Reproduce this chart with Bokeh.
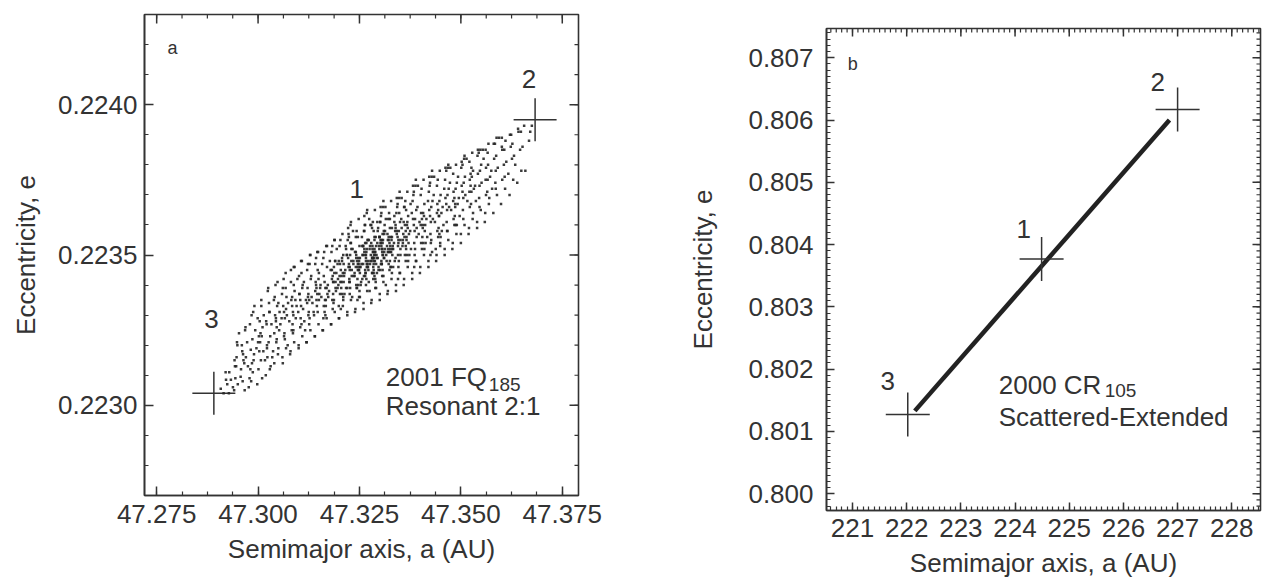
import numpy as np
from jinja2 import Template
from bokeh.plotting import figure
from bokeh.models import FixedTicker, Range1d
from bokeh.core.properties import value
from bokeh.embed import file_html
from bokeh.resources import INLINE

FONT = "Liberation Sans"
INK = "#333333"
DOT = "#262626"

# ---------------- Panel a : 2001 FQ185 (Resonant 2:1) ----------------
a_cloud = [
    47.2908, 47.2921, 47.2915,
    47.2938, 47.2929, 47.2942, 47.2933, 47.2946,
    47.2950, 47.2961, 47.2953, 47.2958, 47.2964, 47.2948, 47.2957,
    47.2979, 47.2970, 47.2984, 47.2973, 47.2977, 47.2968, 47.2982, 47.2975,
    47.2989, 47.2998, 47.3002, 47.2991, 47.2996, 47.3004, 47.2987, 47.2993, 47.3000,
    47.3011, 47.3019, 47.3008, 47.3022, 47.3014, 47.3017, 47.3024, 47.3009, 47.3013, 47.3020,
    47.3031, 47.3040, 47.3028, 47.3037, 47.3043, 47.3033, 47.3026, 47.3039, 47.3035, 47.3044,
    47.3052, 47.3061, 47.3047, 47.3058, 47.3050, 47.3063, 47.3055, 47.3046, 47.3059, 47.3053, 47.3064,
    47.3071, 47.3079, 47.3068, 47.3083, 47.3074, 47.3066, 47.3081, 47.3077, 47.3069, 47.3084, 47.3073,
    47.3092, 47.3100, 47.3087, 47.3097, 47.3104, 47.3090, 47.3095, 47.3086, 47.3102, 47.3093, 47.3099, 47.3088,
    47.3111, 47.3119, 47.3107, 47.3123, 47.3114, 47.3106, 47.3121, 47.3116, 47.3109, 47.3124, 47.3113, 47.3118,
    47.3132, 47.3140, 47.3127, 47.3137, 47.3143, 47.3129, 47.3134, 47.3126, 47.3141, 47.3131, 47.3138, 47.3144,
    47.3151, 47.3159, 47.3147, 47.3162, 47.3154, 47.3146, 47.3161, 47.3156, 47.3149, 47.3164, 47.3153, 47.3158, 47.3150,
    47.3172, 47.3180, 47.3167, 47.3177, 47.3184, 47.3170, 47.3175, 47.3166, 47.3182, 47.3173, 47.3179, 47.3169, 47.3185,
    47.3191, 47.3199, 47.3187, 47.3202, 47.3194, 47.3186, 47.3201, 47.3196, 47.3189, 47.3204, 47.3193, 47.3198, 47.3190, 47.3197,
    47.3212, 47.3220, 47.3207, 47.3217, 47.3224, 47.3210, 47.3215, 47.3206, 47.3222, 47.3213, 47.3219, 47.3209, 47.3225, 47.3216, 47.3211,
    47.3231, 47.3239, 47.3227, 47.3242, 47.3234, 47.3226, 47.3241, 47.3236, 47.3229, 47.3244, 47.3233, 47.3238, 47.3230, 47.3245, 47.3235, 47.3228,
    47.3252, 47.3260, 47.3247, 47.3257, 47.3264, 47.3250, 47.3255, 47.3246, 47.3262, 47.3253, 47.3259, 47.3249, 47.3265, 47.3256, 47.3251, 47.3258, 47.3248, 47.3261,
    47.3271, 47.3279, 47.3267, 47.3282, 47.3274, 47.3266, 47.3281, 47.3276, 47.3269, 47.3284, 47.3273, 47.3278, 47.3270, 47.3285, 47.3275, 47.3268, 47.3280, 47.3272, 47.3277, 47.3283,
    47.3292, 47.3300, 47.3287, 47.3297, 47.3304, 47.3290, 47.3295, 47.3286, 47.3302, 47.3293, 47.3299, 47.3289, 47.3305, 47.3296, 47.3291, 47.3298, 47.3288, 47.3301, 47.3294, 47.3303,
    47.3311, 47.3319, 47.3307, 47.3322, 47.3314, 47.3306, 47.3321, 47.3316, 47.3309, 47.3324, 47.3313, 47.3318, 47.3310, 47.3325, 47.3315, 47.3308, 47.3320, 47.3312,
    47.3332, 47.3340, 47.3327, 47.3337, 47.3344, 47.3330, 47.3335, 47.3326, 47.3342, 47.3333, 47.3339, 47.3329, 47.3345, 47.3336, 47.3331, 47.3338,
    47.3351, 47.3359, 47.3347, 47.3362, 47.3354, 47.3346, 47.3361, 47.3356, 47.3349, 47.3364, 47.3353, 47.3358, 47.3350, 47.3365, 47.3357,
    47.3372, 47.3380, 47.3367, 47.3377, 47.3384, 47.3370, 47.3375, 47.3366, 47.3382, 47.3373, 47.3379, 47.3369, 47.3385, 47.3376,
    47.3391, 47.3399, 47.3387, 47.3402, 47.3394, 47.3386, 47.3401, 47.3396, 47.3389, 47.3404, 47.3393, 47.3398, 47.3390,
    47.3412, 47.3420, 47.3407, 47.3417, 47.3424, 47.3410, 47.3415, 47.3406, 47.3422, 47.3413, 47.3419, 47.3409, 47.3425,
    47.3431, 47.3439, 47.3427, 47.3442, 47.3434, 47.3426, 47.3441, 47.3436, 47.3429, 47.3444, 47.3433, 47.3438,
    47.3452, 47.3460, 47.3447, 47.3457, 47.3464, 47.3450, 47.3455, 47.3446, 47.3462, 47.3453, 47.3459, 47.3449,
    47.3471, 47.3479, 47.3467, 47.3482, 47.3474, 47.3466, 47.3481, 47.3476, 47.3469, 47.3484, 47.3473,
    47.3492, 47.3500, 47.3487, 47.3497, 47.3504, 47.3490, 47.3495, 47.3486, 47.3502, 47.3493,
    47.3511, 47.3519, 47.3507, 47.3522, 47.3514, 47.3506, 47.3521, 47.3516, 47.3509, 47.3524,
    47.3532, 47.3540, 47.3527, 47.3537, 47.3544, 47.3530, 47.3535, 47.3526, 47.3542,
    47.3551, 47.3559, 47.3547, 47.3562, 47.3554, 47.3546, 47.3561, 47.3556,
    47.3572, 47.3580, 47.3567, 47.3577, 47.3584, 47.3570, 47.3575, 47.3566,
    47.3591, 47.3599, 47.3587, 47.3602, 47.3594, 47.3586, 47.3601,
    47.3612, 47.3620, 47.3607, 47.3617, 47.3624, 47.3610,
    47.3631, 47.3639, 47.3627, 47.3642, 47.3634,
    47.3652, 47.3659, 47.3648, 47.3656,
    47.3668, 47.3675, 47.3671,
    # second sweep
    47.2924, 47.2928, 47.2920,
    47.2944, 47.2947, 47.2941, 47.2949, 47.2943,
    47.2966, 47.2962, 47.2969, 47.2960, 47.2967, 47.2963,
    47.2986, 47.2981, 47.2988, 47.2983, 47.2990, 47.2980, 47.2985,
    47.3006, 47.3001, 47.3008, 47.3003, 47.3010, 47.2999, 47.3005, 47.3007,
    47.3027, 47.3022, 47.3029, 47.3021, 47.3030, 47.3025, 47.3023, 47.3028,
    47.3046, 47.3041, 47.3049, 47.3042, 47.3048, 47.3045, 47.3040, 47.3050, 47.3044,
    47.3066, 47.3061, 47.3069, 47.3062, 47.3068, 47.3065, 47.3060, 47.3070, 47.3064,
    47.3086, 47.3081, 47.3089, 47.3082, 47.3088, 47.3085, 47.3080, 47.3090, 47.3084, 47.3087,
    47.3106, 47.3101, 47.3109, 47.3102, 47.3108, 47.3105, 47.3100, 47.3110, 47.3104, 47.3107,
    47.3126, 47.3121, 47.3129, 47.3122, 47.3128, 47.3125, 47.3120, 47.3130, 47.3124, 47.3127, 47.3123,
    47.3146, 47.3141, 47.3149, 47.3142, 47.3148, 47.3145, 47.3140, 47.3150, 47.3144, 47.3147, 47.3143,
    47.3166, 47.3161, 47.3169, 47.3162, 47.3168, 47.3165, 47.3160, 47.3170, 47.3164, 47.3167, 47.3163, 47.3171,
    47.3186, 47.3181, 47.3189, 47.3182, 47.3188, 47.3185, 47.3180, 47.3190, 47.3184, 47.3187, 47.3183, 47.3191,
    47.3206, 47.3201, 47.3209, 47.3202, 47.3208, 47.3205, 47.3200, 47.3210, 47.3204, 47.3207, 47.3203, 47.3211, 47.3199,
    47.3226, 47.3221, 47.3229, 47.3222, 47.3228, 47.3225, 47.3220, 47.3230, 47.3224, 47.3227, 47.3223, 47.3231, 47.3219, 47.3226,
    47.3246, 47.3241, 47.3249, 47.3242, 47.3248, 47.3245, 47.3240, 47.3250, 47.3244, 47.3247, 47.3243, 47.3251, 47.3239, 47.3246, 47.3248, 47.3242,
    47.3266, 47.3261, 47.3269, 47.3262, 47.3268, 47.3265, 47.3260, 47.3270, 47.3264, 47.3267, 47.3263, 47.3271, 47.3259, 47.3266, 47.3268, 47.3262, 47.3264, 47.3267,
    47.3286, 47.3281, 47.3289, 47.3282, 47.3288, 47.3285, 47.3280, 47.3290, 47.3284, 47.3287, 47.3283, 47.3291, 47.3279, 47.3286, 47.3288, 47.3282, 47.3284, 47.3287, 47.3283, 47.3285,
    47.3306, 47.3301, 47.3309, 47.3302, 47.3308, 47.3305, 47.3300, 47.3310, 47.3304, 47.3307, 47.3303, 47.3311, 47.3299, 47.3306, 47.3308, 47.3302, 47.3304, 47.3307,
    47.3326, 47.3321, 47.3329, 47.3322, 47.3328, 47.3325, 47.3320, 47.3330, 47.3324, 47.3327, 47.3323, 47.3331, 47.3319, 47.3326, 47.3328, 47.3322,
    47.3346, 47.3341, 47.3349, 47.3342, 47.3348, 47.3345, 47.3340, 47.3350, 47.3344, 47.3347, 47.3343, 47.3351, 47.3339, 47.3346,
    47.3366, 47.3361, 47.3369, 47.3362, 47.3368, 47.3365, 47.3360, 47.3370, 47.3364, 47.3367, 47.3363, 47.3371, 47.3359,
    47.3386, 47.3381, 47.3389, 47.3382, 47.3388, 47.3385, 47.3380, 47.3390, 47.3384, 47.3387, 47.3383, 47.3391,
    47.3406, 47.3401, 47.3409, 47.3402, 47.3408, 47.3405, 47.3400, 47.3410, 47.3404, 47.3407, 47.3403, 47.3411,
    47.3426, 47.3421, 47.3429, 47.3422, 47.3428, 47.3425, 47.3420, 47.3430, 47.3424, 47.3427, 47.3423,
    47.3446, 47.3441, 47.3449, 47.3442, 47.3448, 47.3445, 47.3440, 47.3450, 47.3444, 47.3447, 47.3443,
    47.3466, 47.3461, 47.3469, 47.3462, 47.3468, 47.3465, 47.3460, 47.3470, 47.3464, 47.3467,
    47.3486, 47.3481, 47.3489, 47.3482, 47.3488, 47.3485, 47.3480, 47.3490, 47.3484, 47.3487,
    47.3506, 47.3501, 47.3509, 47.3502, 47.3508, 47.3505, 47.3500, 47.3510, 47.3504,
    47.3526, 47.3521, 47.3529, 47.3522, 47.3528, 47.3525, 47.3520, 47.3530, 47.3524,
    47.3546, 47.3541, 47.3549, 47.3542, 47.3548, 47.3545, 47.3540, 47.3550,
    47.3566, 47.3561, 47.3569, 47.3562, 47.3568, 47.3565, 47.3560,
    47.3586, 47.3581, 47.3589, 47.3582, 47.3588, 47.3585,
    47.3606, 47.3601, 47.3609, 47.3602, 47.3608,
    47.3626, 47.3621, 47.3629, 47.3623,
    47.3646, 47.3641, 47.3649,
    # dense core
    47.3183, 47.3188, 47.3192, 47.3196, 47.3199,
    47.3203, 47.3207, 47.3210, 47.3213, 47.3217,
    47.3220, 47.3223, 47.3226, 47.3229, 47.3232,
    47.3235, 47.3238, 47.3241, 47.3243, 47.3246,
    47.3249, 47.3251, 47.3254, 47.3257, 47.3259,
    47.3262, 47.3264, 47.3266, 47.3268, 47.3271,
    47.3273, 47.3275, 47.3277, 47.3279, 47.3281,
    47.3283, 47.3285, 47.3287, 47.3289, 47.3291,
    47.3293, 47.3295, 47.3297, 47.3299, 47.3301,
    47.3303, 47.3305, 47.3307, 47.3309, 47.3311,
    47.3313, 47.3315, 47.3317, 47.3320, 47.3322,
    47.3325, 47.3327, 47.3330, 47.3333, 47.3336,
    47.3339, 47.3342, 47.3345, 47.3348, 47.3351,
    47.3354, 47.3357, 47.3360, 47.3364, 47.3368,
    47.3276, 47.3282, 47.3288, 47.3294, 47.3270,
    47.3258, 47.3300, 47.3306, 47.3264, 47.3252,
]
e_cloud = [
    0.223055, 0.223085, 0.22304,
    0.22306, 0.22311, 0.22315, 0.223085, 0.22313,
    0.22307, 0.22318, 0.22324, 0.22312, 0.22315, 0.22321, 0.223095,
    0.22309, 0.22316, 0.2233, 0.22321, 0.22306, 0.22325, 0.223185, 0.22313,
    0.22315, 0.22307, 0.22323, 0.22333, 0.22319, 0.22328, 0.22311, 0.22325, 0.22321,
    0.22326, 0.2231, 0.22335, 0.2232, 0.2233, 0.22315, 0.22338, 0.22323, 0.22318, 0.22328,
    0.22313, 0.22324, 0.22331, 0.22318, 0.2234, 0.22327, 0.22321, 0.22335, 0.22316, 0.22329,
    0.22325, 0.22314, 0.22333, 0.22329, 0.22319, 0.22342, 0.22327, 0.22322, 0.22337, 0.22331, 0.22323,
    0.2233, 0.22317, 0.22339, 0.22325, 0.22334, 0.22322, 0.22345, 0.22328, 0.22332, 0.22336, 0.2232,
    0.22335, 0.22319, 0.2233, 0.22342, 0.22326, 0.22346, 0.22333, 0.22324, 0.22337, 0.22329, 0.22331, 0.2234,
    0.22332, 0.22321, 0.22344, 0.22336, 0.22328, 0.22348, 0.22334, 0.22325, 0.22339, 0.2233, 0.22341, 0.22335,
    0.22336, 0.22323, 0.22347, 0.22331, 0.2234, 0.2235, 0.22334, 0.22327, 0.22338, 0.22343, 0.2233, 0.22335,
    0.22337, 0.22325, 0.22345, 0.22333, 0.2234, 0.22351, 0.22329, 0.22336, 0.22342, 0.22331, 0.22339, 0.22347, 0.22335,
    0.2234, 0.22327, 0.22335, 0.22348, 0.22332, 0.22353, 0.22338, 0.2233, 0.22342, 0.22336, 0.22345, 0.22339, 0.22341,
    0.22341, 0.22329, 0.22346, 0.22337, 0.22352, 0.22334, 0.22343, 0.22339, 0.22355, 0.22332, 0.22344, 0.2234, 0.22348, 0.22342,
    0.22343, 0.2233, 0.22348, 0.22339, 0.22356, 0.22335, 0.22345, 0.22341, 0.22359, 0.22337, 0.2235, 0.22344, 0.22342, 0.22353, 0.22347,
    0.22345, 0.22331, 0.2235, 0.2234, 0.22358, 0.22337, 0.22346, 0.22343, 0.22361, 0.22339, 0.22352, 0.22344, 0.22348, 0.22335, 0.22347, 0.22354,
    0.22346, 0.22332, 0.22349, 0.22342, 0.2236, 0.22338, 0.22347, 0.22345, 0.22363, 0.2234, 0.22353, 0.22348, 0.22344, 0.22356, 0.22336, 0.2235, 0.22347, 0.22343,
    0.22348, 0.22334, 0.22351, 0.22344, 0.22362, 0.2234, 0.22349, 0.22347, 0.22365, 0.22342, 0.22355, 0.2235, 0.22346, 0.22358, 0.22338, 0.22352, 0.22348, 0.22345, 0.2236, 0.22349,
    0.2235, 0.22335, 0.22352, 0.22346, 0.22364, 0.22341, 0.22349, 0.22348, 0.22366, 0.22344, 0.22356, 0.22351, 0.22347, 0.22359, 0.22339, 0.22353, 0.2235, 0.22345, 0.22361, 0.22354,
    0.22351, 0.22337, 0.22354, 0.22347, 0.22366, 0.22343, 0.22352, 0.2235, 0.22368, 0.22345, 0.22358, 0.22353, 0.22349, 0.22362, 0.2234, 0.22355, 0.22351, 0.2236,
    0.22353, 0.22338, 0.22356, 0.22348, 0.22367, 0.22344, 0.22354, 0.22351, 0.22369, 0.22346, 0.2236, 0.22355, 0.22342, 0.22363, 0.22352, 0.22358,
    0.22355, 0.2234, 0.22358, 0.2235, 0.22369, 0.22346, 0.22356, 0.22353, 0.22371, 0.22348, 0.22362, 0.22357, 0.22344, 0.22365, 0.22354,
    0.22357, 0.22342, 0.2236, 0.22352, 0.22371, 0.22348, 0.22358, 0.22355, 0.22373, 0.2235, 0.22364, 0.22359, 0.22346, 0.22367,
    0.22359, 0.22344, 0.22362, 0.22354, 0.22373, 0.2235, 0.2236, 0.22357, 0.22375, 0.22352, 0.22366, 0.22361, 0.22348,
    0.2236, 0.22346, 0.22364, 0.22356, 0.22374, 0.22352, 0.22362, 0.22359, 0.22376, 0.22354, 0.22368, 0.22363, 0.2235,
    0.22362, 0.22348, 0.22366, 0.22358, 0.22376, 0.22354, 0.22364, 0.22361, 0.22378, 0.22356, 0.2237, 0.22352,
    0.22364, 0.2235, 0.22368, 0.2236, 0.22378, 0.22356, 0.22366, 0.22363, 0.22379, 0.22358, 0.22372, 0.22354,
    0.22366, 0.22352, 0.2237, 0.22362, 0.22379, 0.22358, 0.22368, 0.22365, 0.2238, 0.2236, 0.22374,
    0.22367, 0.22354, 0.22372, 0.22363, 0.2238, 0.2236, 0.22369, 0.22366, 0.22381, 0.22376,
    0.2237, 0.22357, 0.22374, 0.22366, 0.22382, 0.22362, 0.22371, 0.22368, 0.22383, 0.22377,
    0.22372, 0.22359, 0.22376, 0.22368, 0.22384, 0.22364, 0.22373, 0.22379, 0.22385,
    0.22374, 0.22361, 0.22378, 0.2237, 0.22385, 0.22366, 0.22375, 0.22382,
    0.22376, 0.22364, 0.2238, 0.22372, 0.22387, 0.22369, 0.22378, 0.22384,
    0.22379, 0.22367, 0.22383, 0.22375, 0.22389, 0.22372, 0.22386,
    0.22381, 0.2237, 0.22385, 0.22377, 0.2239, 0.22388,
    0.22383, 0.22374, 0.22387, 0.22391, 0.2238,
    0.22386, 0.22378, 0.22391, 0.22393,
    0.22388, 0.22393, 0.22391,
    # second sweep
    0.22307, 0.22304, 0.22311,
    0.22309, 0.22316, 0.22305, 0.2232, 0.22313,
    0.22314, 0.22308, 0.22326, 0.2232, 0.22305, 0.22317,
    0.22322, 0.22312, 0.22331, 0.22308, 0.22317, 0.22327, 0.22314,
    0.22324, 0.22312, 0.22333, 0.22318, 0.22309, 0.22329, 0.22321, 0.22315,
    0.22334, 0.22319, 0.22312, 0.22327, 0.22323, 0.22339, 0.22316, 0.22331,
    0.22326, 0.22336, 0.22317, 0.2233, 0.22341, 0.22321, 0.22314, 0.22334, 0.22328,
    0.22329, 0.22339, 0.22319, 0.22333, 0.22344, 0.22324, 0.22316, 0.22336, 0.22331,
    0.22331, 0.22341, 0.22321, 0.22335, 0.22346, 0.22327, 0.22318, 0.22338, 0.22333, 0.22325,
    0.22333, 0.22343, 0.22323, 0.22337, 0.22348, 0.22329, 0.2232, 0.2234, 0.22335, 0.22327,
    0.22335, 0.22345, 0.22325, 0.22339, 0.2235, 0.22331, 0.22321, 0.22342, 0.22337, 0.22329, 0.22347,
    0.22337, 0.22347, 0.22327, 0.22341, 0.22351, 0.22333, 0.22323, 0.22344, 0.22339, 0.22331, 0.22349,
    0.22339, 0.22349, 0.22329, 0.22343, 0.22353, 0.22335, 0.22325, 0.22346, 0.22341, 0.22333, 0.22351, 0.22337,
    0.22341, 0.22351, 0.22331, 0.22345, 0.22355, 0.22337, 0.22327, 0.22348, 0.22343, 0.22335, 0.22353, 0.22339,
    0.22343, 0.22353, 0.22333, 0.22347, 0.22357, 0.22339, 0.22329, 0.2235, 0.22345, 0.22337, 0.22355, 0.22341, 0.22348,
    0.22345, 0.22355, 0.22335, 0.22349, 0.2236, 0.22341, 0.22331, 0.22352, 0.22347, 0.22339, 0.22357, 0.22343, 0.2235, 0.22346,
    0.22346, 0.22356, 0.22336, 0.2235, 0.22362, 0.22342, 0.22332, 0.22353, 0.22348, 0.2234, 0.22358, 0.22344, 0.22351, 0.22347, 0.22345, 0.22349,
    0.22348, 0.22358, 0.22338, 0.22352, 0.22364, 0.22344, 0.22334, 0.22355, 0.2235, 0.22342, 0.2236, 0.22346, 0.22353, 0.22349, 0.22347, 0.22351, 0.22345, 0.22354,
    0.22349, 0.22359, 0.22339, 0.22353, 0.22365, 0.22345, 0.22335, 0.22356, 0.22351, 0.22343, 0.22361, 0.22347, 0.22354, 0.2235, 0.22348, 0.22352, 0.22346, 0.22355, 0.22349, 0.22344,
    0.22351, 0.22361, 0.22341, 0.22355, 0.22366, 0.22347, 0.22337, 0.22358, 0.22353, 0.22345, 0.22363, 0.22349, 0.22356, 0.22352, 0.2235, 0.22354, 0.22348, 0.22357,
    0.22352, 0.22362, 0.22342, 0.22356, 0.22368, 0.22348, 0.22338, 0.22359, 0.22354, 0.22346, 0.22364, 0.2235, 0.22357, 0.22353, 0.22351, 0.22355,
    0.22354, 0.22364, 0.22344, 0.22358, 0.22369, 0.2235, 0.2234, 0.22361, 0.22356, 0.22348, 0.22366, 0.22352, 0.22359, 0.22355,
    0.22356, 0.22366, 0.22346, 0.2236, 0.22371, 0.22352, 0.22342, 0.22363, 0.22358, 0.2235, 0.22368, 0.22354, 0.22361,
    0.22358, 0.22368, 0.22348, 0.22362, 0.22373, 0.22354, 0.22344, 0.22365, 0.2236, 0.22352, 0.2237, 0.22356,
    0.2236, 0.2237, 0.2235, 0.22364, 0.22375, 0.22356, 0.22346, 0.22367, 0.22362, 0.22354, 0.22372, 0.22358,
    0.22361, 0.22371, 0.22351, 0.22365, 0.22376, 0.22357, 0.22348, 0.22368, 0.22363, 0.22355, 0.22373,
    0.22363, 0.22373, 0.22353, 0.22367, 0.22378, 0.22359, 0.2235, 0.2237, 0.22365, 0.22357, 0.22375,
    0.22365, 0.22375, 0.22355, 0.22369, 0.22379, 0.22361, 0.22352, 0.22372, 0.22367, 0.22358,
    0.22367, 0.22377, 0.22357, 0.22371, 0.2238, 0.22363, 0.22354, 0.22374, 0.22369, 0.2236,
    0.22369, 0.22379, 0.2236, 0.22373, 0.22382, 0.22365, 0.22357, 0.22376, 0.22371,
    0.22371, 0.22381, 0.22362, 0.22375, 0.22384, 0.22367, 0.22359, 0.22378, 0.22373,
    0.22373, 0.22383, 0.22365, 0.22377, 0.22385, 0.22369, 0.22361, 0.2238,
    0.22375, 0.22385, 0.22367, 0.22379, 0.22387, 0.22371, 0.22364,
    0.22378, 0.22387, 0.2237, 0.22382, 0.22389, 0.22374,
    0.2238, 0.22389, 0.22372, 0.22385, 0.22376,
    0.22382, 0.2239, 0.22375, 0.22386,
    0.22385, 0.22392, 0.22378,
    # dense core
    0.22335, 0.22344, 0.22338, 0.22347, 0.22333,
    0.22341, 0.22349, 0.22336, 0.22344, 0.22352,
    0.22339, 0.22346, 0.22341, 0.22354, 0.22336,
    0.22348, 0.22343, 0.22351, 0.22339, 0.22356,
    0.22345, 0.22349, 0.22341, 0.22353, 0.22347,
    0.22358, 0.22343, 0.2235, 0.22346, 0.22355,
    0.22341, 0.22352, 0.22348, 0.2236, 0.22344,
    0.22351, 0.22347, 0.22356, 0.22342, 0.22353,
    0.22349, 0.22358, 0.22345, 0.22352, 0.22361,
    0.22347, 0.22355, 0.2235, 0.22343, 0.22357,
    0.22352, 0.22362, 0.22348, 0.22355, 0.22351,
    0.22359, 0.22346, 0.22356, 0.22352, 0.22361,
    0.22349, 0.22357, 0.22353, 0.22364, 0.2235,
    0.22359, 0.22355, 0.22366, 0.22353, 0.22361,
    0.22353, 0.22349, 0.22351, 0.22354, 0.22347,
    0.2235, 0.22356, 0.22352, 0.22354, 0.22346,
]
a_marks_a = [47.2891, 47.3683]          # orbits 3 and 2
e_marks_a = [0.22304, 0.22395]

a_ticks_a = [47.275, 47.300, 47.325, 47.350, 47.375]
a_labels_a = ["47.275", "47.300", "47.325", "47.350", "47.375"]
e_ticks_a = [0.2230, 0.2235, 0.2240]
e_labels_a = ["0.2230", "0.2235", "0.2240"]

# ---------------- Panel b : 2000 CR105 (Scattered-Extended) ----------------
a_track_b = [222.15, 226.85]
e_track_b = [0.80133, 0.80600]
a_marks_b = [224.49, 227.00, 222.02]    # orbits 1, 2, 3
e_marks_b = [0.80377, 0.80617, 0.80127]

a_ticks_b = [221, 222, 223, 224, 225, 226, 227, 228]
a_labels_b = ["221", "222", "223", "224", "225", "226", "227", "228"]
e_ticks_b = [0.800, 0.801, 0.802, 0.803, 0.804, 0.805, 0.806, 0.807]
e_labels_b = ["0.800", "0.801", "0.802", "0.803", "0.804", "0.805", "0.806", "0.807"]

X_TITLE = "Semimajor axis, a (AU)"
Y_TITLE = "Eccentricity, e"

n_pts = min(len(a_cloud), len(e_cloud))


def minor_list(start, step, count, lo, hi):
    vals = [round(start + k * step, 8) for k in range(count)]
    return [v for v in vals if lo < v < hi]


def style_axis(ax, major_in, minor_in):
    ax.axis_line_color = INK
    ax.axis_line_width = 1.6
    ax.major_tick_in = major_in
    ax.major_tick_out = 0
    ax.minor_tick_in = minor_in
    ax.minor_tick_out = 0
    ax.major_tick_line_color = INK
    ax.major_tick_line_width = 1.5
    ax.minor_tick_line_color = INK
    ax.minor_tick_line_width = 1.2
    ax.major_label_text_font = FONT
    ax.major_label_text_color = INK
    ax.major_label_text_font_size = "26px"
    ax.axis_label_text_font = FONT
    ax.axis_label_text_color = INK
    ax.axis_label_text_font_style = "normal"
    ax.axis_label_text_font_size = "26px"


def make_panel(xr, yr, xt, xl, xminor, yt, yl, yminor, size, borders, major_in, minor_in,
               x_std, x_lab_std, y_std, y_lab_std):
    p = figure(width=size[0], height=size[1],
               x_range=Range1d(*xr), y_range=Range1d(*yr),
               output_backend="svg", toolbar_location=None, title=None,
               min_border_left=borders[0], min_border_right=borders[1],
               min_border_top=borders[2], min_border_bottom=borders[3],
               background_fill_color="white", border_fill_color="white")
    p.grid.visible = False
    p.outline_line_color = INK
    p.outline_line_width = 1.6

    xa = p.xaxis[0]
    xa.ticker = FixedTicker(ticks=xt, minor_ticks=xminor)
    xa.major_label_overrides = {t: l for t, l in zip(xt, xl)}
    style_axis(xa, major_in, minor_in)
    xa.axis_label = X_TITLE
    xa.major_label_standoff = x_std
    xa.axis_label_standoff = x_lab_std

    ya = p.yaxis[0]
    ya.ticker = FixedTicker(ticks=yt, minor_ticks=yminor)
    ya.major_label_overrides = {t: l for t, l in zip(yt, yl)}
    style_axis(ya, major_in, minor_in)
    ya.axis_label = Y_TITLE
    ya.major_label_standoff = y_std
    ya.axis_label_standoff = y_lab_std

    # mirrored tick marks on the top and right frame edges (clipped to the frame)
    p.scatter(x=xt, y=[yr[1]] * len(xt), marker="dash", angle=np.pi / 2,
              size=2 * major_in, line_color=INK, line_width=1.5)
    p.scatter(x=xminor, y=[yr[1]] * len(xminor), marker="dash", angle=np.pi / 2,
              size=2 * minor_in, line_color=INK, line_width=1.2)
    p.scatter(x=[xr[1]] * len(yt), y=yt, marker="dash",
              size=2 * major_in, line_color=INK, line_width=1.5)
    p.scatter(x=[xr[1]] * len(yminor), y=yminor, marker="dash",
              size=2 * minor_in, line_color=INK, line_width=1.2)
    return p


def put_text(p, x, y, txt, size, align="center"):
    p.text(x=[x], y=[y], text=[txt], text_font=value(FONT), text_font_size=size,
           text_color=INK, text_align=align, text_baseline="middle")


# ---- panel a
xr_a = (47.272, 47.379)
yr_a = (0.2227, 0.2243)
pa = make_panel(xr_a, yr_a, a_ticks_a, a_labels_a,
                minor_list(47.26875, 0.00625, 20, xr_a[0], xr_a[1]),
                e_ticks_a, e_labels_a,
                minor_list(0.2226, 0.0001, 20, yr_a[0], yr_a[1]),
                (680, 587), (144, 102, 14, 92), 9, 4, 9, 8, 7, 14)
pa.scatter(a_marks_a, e_marks_a, marker="cross", size=43, line_color=INK, line_width=1.5)
pa.scatter(a_cloud[:n_pts], e_cloud[:n_pts], marker="square", size=2.5, fill_color=DOT,
           line_color=None, fill_alpha=0.9)
put_text(pa, 47.2789, 0.224187, "a", "18px")
put_text(pa, 47.3243, 0.22372, "1", "26px")
put_text(pa, 47.3668, 0.224087, "2", "26px")
put_text(pa, 47.2885, 0.223287, "3", "26px")
put_text(pa, 47.3315, 0.223093, "2001 FQ", "26px", "left")
put_text(pa, 47.3569, 0.22307, "185", "19px", "left")
put_text(pa, 47.3315, 0.222997, "Resonant 2:1", "26px", "left")

# ---- panel b
xr_b = (220.52, 228.53)
yr_b = (0.79973, 0.80747)
pb = make_panel(xr_b, yr_b, a_ticks_b, a_labels_b,
                minor_list(220.0, 0.1, 90, xr_b[0], xr_b[1]),
                e_ticks_b, e_labels_b,
                minor_list(0.7995, 0.0001, 85, yr_b[0], yr_b[1]),
                (587, 587), (146, 7, 28, 77), 8, 4, 8, 8, 13, 27)
pb.line(a_track_b, e_track_b, line_color="#222222", line_width=4.5)
pb.scatter(a_marks_b, e_marks_b, marker="cross", size=44, line_color=INK, line_width=1.5)
put_text(pb, 221.0055, 0.806904, "b", "18px")
put_text(pb, 224.16, 0.804255, "1", "26px")
put_text(pb, 226.633, 0.806615, "2", "26px")
put_text(pb, 221.651, 0.801815, "3", "26px")
put_text(pb, 223.699, 0.801751, "2000 CR", "26px", "left")
put_text(pb, 225.655, 0.801655, "105", "19px", "left")
put_text(pb, 223.699, 0.801238, "Scattered-Extended", "26px", "left")

# The two panels are independent roots placed side by side (no shared frame alignment).
SIDE_BY_SIDE = Template("""{% extends base %}
{% block preamble %}
<style>
  body { display: flex !important; flex-direction: row; align-items: flex-start; margin: 0; }
</style>
{% endblock %}
""")

open("out.html", "w").write(file_html([pa, pb], INLINE, template=SIDE_BY_SIDE))
